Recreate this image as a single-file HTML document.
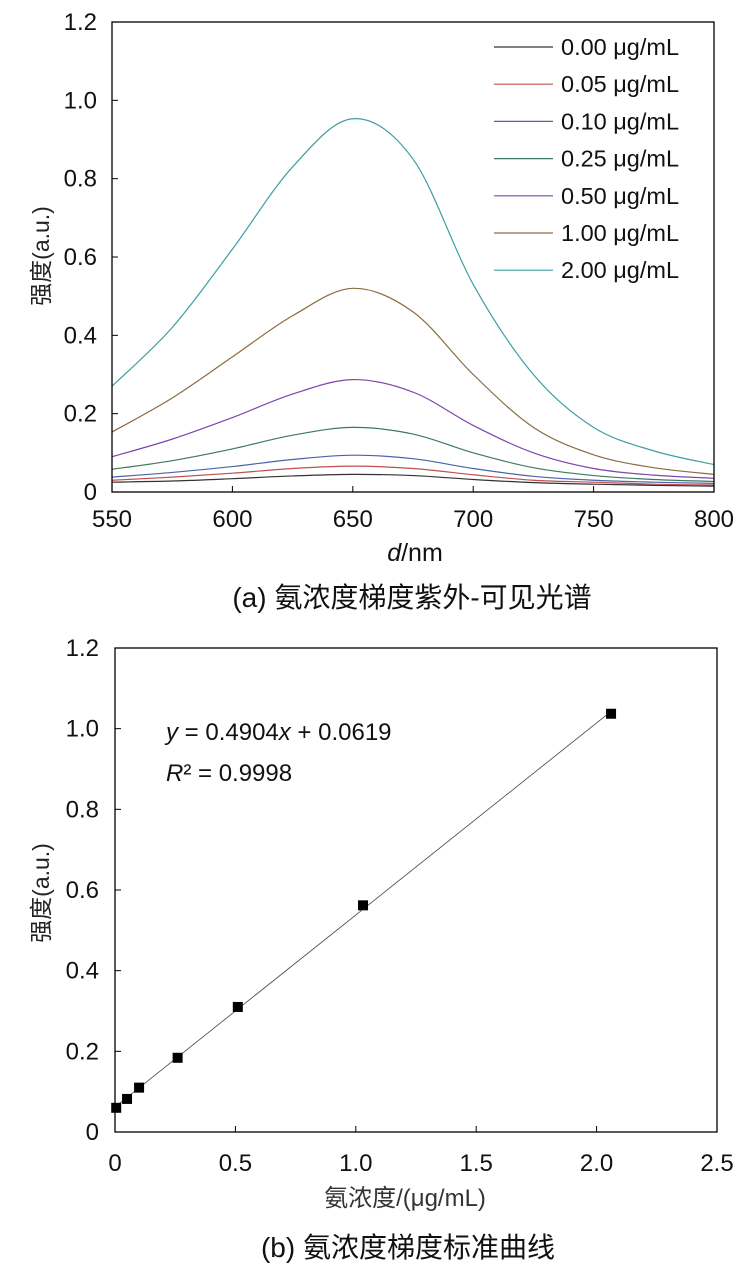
<!DOCTYPE html>
<html><head><meta charset="utf-8"><style>
body{margin:0;background:#fff;width:750px;height:1266px;overflow:hidden}
svg{display:block;font-family:"Liberation Sans","Noto Sans CJK SC",sans-serif}
</style></head><body>
<svg id="s" width="750" height="1266"></svg>
<script>
const wavelengths=[550,575,600,625,650,675,700,725,750,775,800];
const seriesLabels=["0.00 μg/mL","0.05 μg/mL","0.10 μg/mL","0.25 μg/mL","0.50 μg/mL","1.00 μg/mL","2.00 μg/mL"];
const s000=[.025,.028,.034,.041,.045,.042,.032,.024,.02,.017,.015];
const s005=[.03,.038,.048,.06,.066,.06,.044,.03,.025,.02,.018];
const s010=[.038,.05,.065,.083,.094,.085,.06,.04,.03,.025,.022];
const s025=[.058,.08,.11,.145,.165,.148,.10,.062,.042,.032,.027];
const s050=[.09,.135,.19,.25,.287,.255,.17,.10,.06,.043,.035];
const s100=[.153,.24,.345,.45,.52,.46,.30,.165,.095,.062,.045];
const s200=[.27,.42,.62,.83,.953,.85,.53,.30,.165,.105,.07];
const xTicksA=[550,600,650,700,750,800];
const yTicks=[0,0.2,0.4,0.6,0.8,1.0,1.2];
const concX=[0.005,0.05,0.10,0.26,0.51,1.03,2.06];
const intensityY=[0.060,0.082,0.110,0.184,0.310,0.562,1.037];
const xTicksB=[0,0.5,1.0,1.5,2.0,2.5];

const NS="http://www.w3.org/2000/svg",svg=document.getElementById('s');
function mk(t,a,p){const e=document.createElementNS(NS,t);for(const k in a)e.setAttribute(k,a[k]);(p||svg).appendChild(e);return e;}
const colors=["#333333","#c0504d","#4a64a8","#3d7a5c","#7d45ad","#8a6c40","#3f9ea4"];
const series=[s000,s005,s010,s025,s050,s100,s200];
const TF=24;
// chart A
const ax=v=>112+(v-550)/250*602, ay=v=>492-v/1.2*470;
const gA=mk('g',{});
series.forEach((d,i)=>{
 const P=d.map((v,j)=>[ax(wavelengths[j]),ay(v)]);
 let p=`M${P[0][0]},${P[0][1]}`;
 for(let j=0;j<P.length-1;j++){const a=P[Math.max(0,j-1)],b=P[j],c=P[j+1],e=P[Math.min(P.length-1,j+2)];
  p+=` C${b[0]+(c[0]-a[0])/6},${b[1]+(c[1]-a[1])/6} ${c[0]-(e[0]-b[0])/6},${c[1]-(e[1]-b[1])/6} ${c[0]},${c[1]}`;}
 const el=mk('path',{d:p,fill:'none',stroke:colors[i],'stroke-width':1.2},gA);
 
 
 const ly=47+i*37.2;
 const ll=mk('line',{x1:494,x2:553,y1:ly,y2:ly,stroke:colors[i],'stroke-width':1.2},gA);
 
 
 const lt=mk('text',{x:561,y:ly+8,'font-size':23.5,fill:'#111'},gA);lt.textContent=seriesLabels[i];
 
 
});
mk('rect',{x:112,y:22,width:602,height:470,fill:'none',stroke:'#000','stroke-width':1.3},gA);
xTicksA.forEach(t=>{mk('line',{x1:ax(t),x2:ax(t),y1:492,y2:486,stroke:'#000'},gA);
 const e=mk('text',{x:ax(t),y:527,'font-size':TF,'text-anchor':'middle',fill:'#111'},gA);e.textContent=t;
 });
yTicks.forEach(t=>{mk('line',{x1:112,x2:118,y1:ay(t),y2:ay(t),stroke:'#000'},gA);
 const e=mk('text',{x:97,y:ay(t)+8,'font-size':TF,'text-anchor':'end',fill:'#111'},gA);e.textContent=t===0?'0':t.toFixed(1);
 });
let t=mk('text',{x:415,y:561,'font-size':25,'text-anchor':'middle',fill:'#111'},gA);t.innerHTML='<tspan font-style="italic">d</tspan>/nm';

t=mk('text',{x:0,y:0,'font-size':23,'text-anchor':'middle',fill:'#222',transform:'translate(49,256) rotate(-90)'},gA);t.textContent='强度(a.u.)';

t=mk('text',{x:412,y:607,'font-size':28,'text-anchor':'middle',fill:'#111'},gA);t.textContent='(a) 氨浓度梯度紫外-可见光谱';

// chart B
const bx=v=>115+v/2.5*602, by=v=>1132-v/1.2*484;
const gB=mk('g',{});
mk('rect',{x:115,y:648,width:602,height:484,fill:'none',stroke:'#000','stroke-width':1.3},gB);
// least-squares fit through plotted points
const n=concX.length,mx=concX.reduce((a,b)=>a+b)/n,my=intensityY.reduce((a,b)=>a+b)/n;
let sxy=0,sxx=0;concX.forEach((c,i)=>{sxy+=(c-mx)*(intensityY[i]-my);sxx+=(c-mx)*(c-mx);});
const k=sxy/sxx,b0=my-k*mx;
const x0=concX[0],x1=concX[n-1];
const fl=mk('line',{x1:bx(x0),y1:by(k*x0+b0),x2:bx(x1),y2:by(k*x1+b0),stroke:'#444','stroke-width':0.8},gB);

concX.forEach((c,i)=>{const r=mk('rect',{x:bx(c)-5,y:by(intensityY[i])-5,width:10,height:10,fill:'#000'},gB);
 });
xTicksB.forEach(v=>{mk('line',{x1:bx(v),x2:bx(v),y1:1132,y2:1126,stroke:'#000'},gB);
 const e=mk('text',{x:bx(v),y:1171,'font-size':TF,'text-anchor':'middle',fill:'#111'},gB);e.textContent=v===0?'0':v.toFixed(1);
 });
yTicks.forEach(v=>{mk('line',{x1:115,x2:121,y1:by(v),y2:by(v),stroke:'#000'},gB);
 const e=mk('text',{x:99,y:by(v)+8,'font-size':TF,'text-anchor':'end',fill:'#111'},gB);e.textContent=v===0?'0':v.toFixed(1);
 });
t=mk('text',{x:166,y:740,'font-size':24,fill:'#111'},gB);t.innerHTML='<tspan font-style="italic">y</tspan> = 0.4904<tspan font-style="italic">x</tspan> + 0.0619';

t=mk('text',{x:166,y:781,'font-size':24,fill:'#111'},gB);t.innerHTML='<tspan font-style="italic">R</tspan>² = 0.9998';

t=mk('text',{x:405,y:1206,'font-size':24,'text-anchor':'middle',fill:'#333'},gB);t.textContent='氨浓度/(μg/mL)';

t=mk('text',{x:0,y:0,'font-size':23,'text-anchor':'middle',fill:'#222',transform:'translate(49,893) rotate(-90)'},gB);t.textContent='强度(a.u.)';

t=mk('text',{x:408,y:1257,'font-size':28,'text-anchor':'middle',fill:'#111'},gB);t.textContent='(b) 氨浓度梯度标准曲线';

</script>
</body></html>
